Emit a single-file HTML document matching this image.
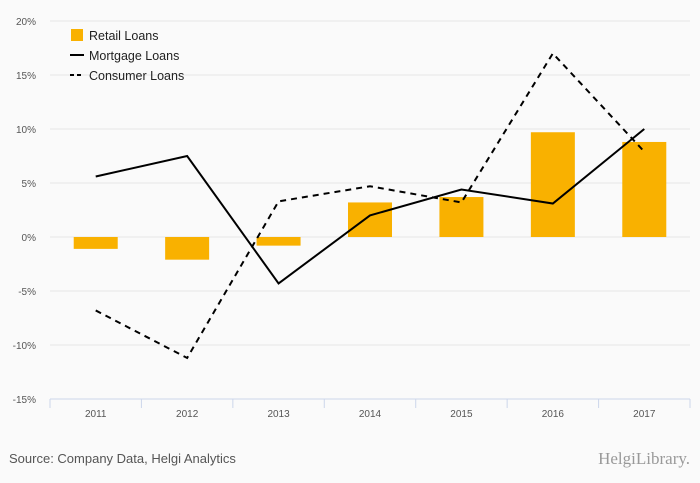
<!DOCTYPE html>
<html><head><meta charset="utf-8"><style>
html,body{margin:0;padding:0;background:#fafafa;}
svg{display:block;font-family:"Liberation Sans",sans-serif;}
</style></head><body>
<svg id="chart" width="700" height="483">
<rect width="700" height="483" fill="#fafafa"/>
<g id="grid"></g><g id="bars"></g><g id="lines"></g><g id="axis"></g>
<g>
<rect x="71" y="29" width="12" height="12" fill="#f9b100"/>
<text x="89" y="40" font-size="12.5" fill="#222">Retail Loans</text>
<line x1="70" y1="55" x2="84" y2="55" stroke="#000" stroke-width="2"/>
<text x="89" y="60" font-size="12.5" fill="#222">Mortgage Loans</text>
<line x1="70" y1="75" x2="84" y2="75" stroke="#000" stroke-width="2" stroke-dasharray="4,3"/>
<text x="89" y="80" font-size="12.5" fill="#222">Consumer Loans</text>
</g>
<text x="9" y="463" font-size="13" fill="#555">Source: Company Data, Helgi Analytics</text>
<text x="690" y="464" font-size="17" fill="#999" text-anchor="end" font-family="Liberation Serif,serif">HelgiLibrary.</text>
</svg>
<script>
const categories=["2011","2012","2013","2014","2015","2016","2017"];
const retail=[-1.1,-2.1,-0.8,3.2,3.7,9.7,8.8];
const mortgage=[5.6,7.5,-4.3,2.0,4.4,3.1,10.0];
const consumer=[-6.8,-11.2,3.3,4.7,3.2,17.0,7.9];
const yTicks=[20,15,10,5,0,-5,-10,-15];
const NS="http://www.w3.org/2000/svg";
const X0=50,X1=690,Y20=21,Ym15=399;
function y(v){return Y20+(20-v)*(Ym15-Y20)/35;}
const bw=(X1-X0)/categories.length;
function x(i){return X0+bw*(i+0.5);}
function mk(tag,attrs,parent){const e=document.createElementNS(NS,tag);for(const k in attrs)e.setAttribute(k,attrs[k]);document.getElementById(parent).appendChild(e);return e;}
yTicks.forEach(t=>{
  if(t!==-15){const l=mk('line',{x1:X0,x2:X1,y1:y(t),y2:y(t),stroke:'#e6e6e6','stroke-width':1},'grid');
  
  }
  const tx=mk('text',{x:36,y:y(t)+4,'font-size':10,fill:'#555','text-anchor':'end'},'grid');
  tx.textContent=t+'%';
  
  
});
const ax=mk('line',{x1:X0,x2:X1,y1:Ym15,y2:Ym15,stroke:'#ccd6eb','stroke-width':1},'axis');


for(let i=0;i<=categories.length;i++){
  const t=mk('line',{x1:X0+bw*i,x2:X0+bw*i,y1:Ym15,y2:Ym15+9,stroke:'#ccd6eb'},'axis');
  
  
}
categories.forEach((c,i)=>{
  const t=mk('text',{x:x(i),y:417,'font-size':10,fill:'#555','text-anchor':'middle'},'axis');
  t.textContent=c;
  
  
  const v=retail[i];
  const b=mk('rect',{x:x(i)-22,width:44,y:Math.min(y(v),y(0)),height:Math.abs(y(v)-y(0)),fill:'#f9b100'},'bars');
  
  
});
function line(arr,dash,name){
  const p=mk('polyline',{points:arr.map((v,i)=>x(i)+','+y(v)).join(' '),fill:'none',stroke:'#000','stroke-width':2,'stroke-dasharray':dash},'lines');
  
  
}
line(mortgage,'none','mortgage-line');
line(consumer,'6,5','consumer-line');
</script>
</body></html>
